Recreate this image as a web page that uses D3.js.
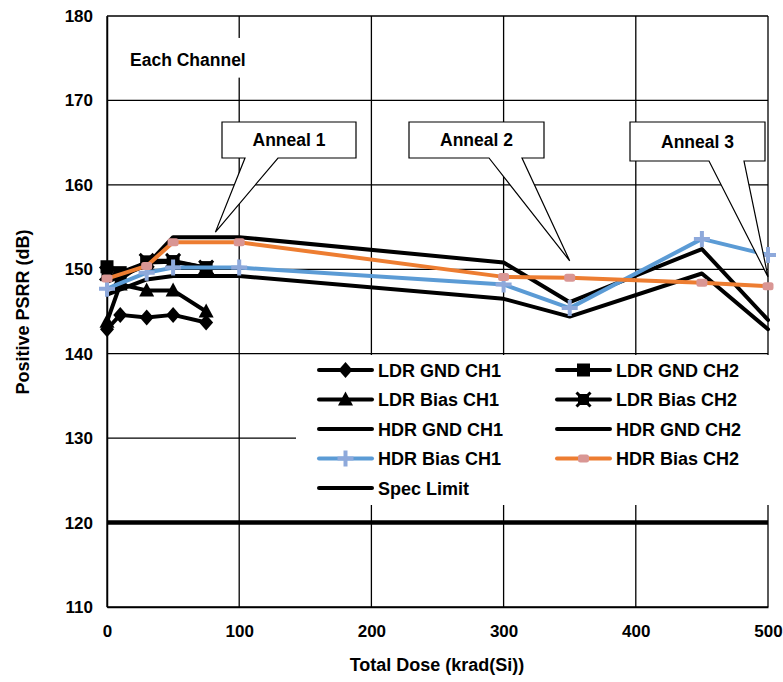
<!DOCTYPE html>
<html><head><meta charset="utf-8">
<script src="https://cdn.jsdelivr.net/npm/d3@7"></script>
<style>body{margin:0;background:#fff}svg{display:block}text{font-family:"Liberation Sans",Arial,sans-serif;font-weight:bold;fill:#000}</style>
</head><body><svg id="c" width="783" height="682"></svg>
<script>
// ---- data ----
const ldrDose = [0, 10, 30, 50, 75];
const ldrGndCh1 = [142.9, 144.6, 144.3, 144.6, 143.7];
const ldrGndCh2 = [150.3, 149.6, 150.8, 150.9, 150.2];
const ldrBiasCh1 = [143.8, 148.2, 147.5, 147.5, 145.0];
const ldrBiasCh2 = [149.5, 148.8, 151.0, 151.0, 150.2];
const hdrDose = [0, 30, 50, 100, 300, 350, 450, 500];
const hdrGndCh1 = [148.5, 150.5, 153.8, 153.8, 150.8, 146.1, 152.4, 144.0];
const hdrGndCh2 = [147.0, 148.8, 149.2, 149.2, 146.5, 144.4, 149.5, 142.9];
const hdrBiasCh1 = [147.7, 149.6, 150.2, 150.2, 148.2, 145.4, 153.6, 151.7];
const hdrBiasCh2 = [148.9, 150.4, 153.2, 153.2, 149.1, 149.0, 148.4, 148.0];
const specDose = [0, 500];
const specLimit = [120, 120];
const xTicks = [0, 100, 200, 300, 400, 500];
const yTicks = [110, 120, 130, 140, 150, 160, 170, 180];
const seriesNames = ["LDR GND CH1","LDR GND CH2","LDR Bias CH1","LDR Bias CH2","HDR GND CH1","HDR GND CH2","HDR Bias CH1","HDR Bias CH2","Spec Limit"];
const annNames = ["Anneal 1","Anneal 2","Anneal 3"];
const annTipX = [82, 350, 500];
const annTipY = [154.4, 151.0, 149.1];

// ---- layout ----
const L=107,R=768,T=16,B=607;
const svg=d3.select("#c");
const x=d3.scaleLinear().domain([0,500]).range([L,R]);
const y=d3.scaleLinear().domain([110,180]).range([B,T]);

// gridlines
const g=svg.append("g");
g.selectAll(".hg").data(yTicks).join("line").attr("x1",L).attr("x2",R)
 .attr("y1",d=>y(d)).attr("y2",d=>y(d)).attr("stroke","#000").attr("stroke-width",1.3);
g.selectAll(".vg").data(xTicks).join("line").attr("y1",T).attr("y2",B)
 .attr("x1",d=>x(d)).attr("x2",d=>x(d)).attr("stroke","#000").attr("stroke-width",1.3);

// axes labels
const ya=svg.append("g").attr("transform",`translate(${L},0)`).call(d3.axisLeft(y).tickValues(yTicks).tickSize(0).tickPadding(14));
ya.select(".domain").attr("stroke","#000").attr("stroke-width",1.5);
ya.selectAll("text").style("font-size","17px").style("font-family","Liberation Sans, Arial").style("font-weight","bold");
const xa=svg.append("g").attr("transform",`translate(0,${B})`).call(d3.axisBottom(x).tickValues(xTicks).tickSize(0).tickPadding(18));
xa.select(".domain").attr("stroke","#000").attr("stroke-width",1.5);
xa.selectAll("text").style("font-size","17px").style("font-family","Liberation Sans, Arial").style("font-weight","bold");

svg.append("text").attr("x",437).attr("y",671).attr("text-anchor","middle").style("font-size","18px").text("Total Dose (krad(Si))");
svg.append("text").attr("transform","translate(29,312) rotate(-90)").attr("text-anchor","middle").style("font-size","18px").text("Positive PSRR (dB)");

// "Each Channel" box
svg.append("rect").attr("x",x(10)).attr("y",y(177.4)).attr("width",x(120)-x(10)).attr("height",y(172.7)-y(177.4)).attr("fill","#fff");
svg.append("text").attr("x",130).attr("y",66).style("font-size","17.5px").text("Each Channel");

// series
const line=d3.line().x(d=>x(d[0])).y(d=>y(d[1]));
const zip=(a,b)=>a.map((v,i)=>[v,b[i]]);
const plot=svg.append("g");
function drawLine(xs,ys,color,w){
  plot.append("path").datum(zip(xs,ys)).attr("d",line).attr("fill","none").attr("stroke",color)
   .attr("stroke-width",w).attr("stroke-linejoin","round").attr("stroke-linecap","round");
}
function marker(sel,type,cx,cy){
  if(type==="diamond") sel.append("path").attr("d",`M${cx},${cy-8}L${cx+7},${cy}L${cx},${cy+8}L${cx-7},${cy}Z`).attr("fill","#000");
  else if(type==="square") sel.append("rect").attr("x",cx-6.5).attr("y",cy-6.5).attr("width",13).attr("height",13).attr("fill","#000");
  else if(type==="triangle") sel.append("path").attr("d",`M${cx},${cy-8}L${cx+7.5},${cy+6}L${cx-7.5},${cy+6}Z`).attr("fill","#000");
  else if(type==="xsq"){ sel.append("rect").attr("x",cx-5.5).attr("y",cy-5.5).attr("width",11).attr("height",11).attr("fill","#000");
    sel.append("path").attr("d",`M${cx-7},${cy-7}L${cx+7},${cy+7}M${cx+7},${cy-7}L${cx-7},${cy+7}`).attr("stroke","#000").attr("stroke-width",3);}
  else if(type==="plus") sel.append("path").attr("d",`M${cx-8},${cy}H${cx+8}M${cx},${cy-8}V${cy+8}`).attr("stroke","#8EA9DB").attr("stroke-width",4);
  else if(type==="pink") sel.append("rect").attr("x",cx-5.5).attr("y",cy-4).attr("width",11).attr("height",8).attr("rx",2.5).attr("fill","#D99694");
}
function drawMarkers(xs,ys,type){ xs.forEach((v,i)=>marker(plot,type,x(v),y(ys[i]))); }

drawLine(ldrDose,ldrGndCh1,"#000",4); drawMarkers(ldrDose,ldrGndCh1,"diamond");
drawLine(ldrDose,ldrGndCh2,"#000",4); drawMarkers(ldrDose,ldrGndCh2,"square");
drawLine(ldrDose,ldrBiasCh1,"#000",4); drawMarkers(ldrDose,ldrBiasCh1,"triangle");
drawLine(ldrDose,ldrBiasCh2,"#000",4); drawMarkers(ldrDose,ldrBiasCh2,"xsq");
drawLine(hdrDose,hdrGndCh1,"#000",4);
drawLine(hdrDose,hdrGndCh2,"#000",4);
drawLine(hdrDose,hdrBiasCh1,"#5B9BD5",4); drawMarkers(hdrDose,hdrBiasCh1,"plus");
drawLine(hdrDose,hdrBiasCh2,"#ED7D31",4); drawMarkers(hdrDose,hdrBiasCh2,"pink");
plot.append("path").datum(zip(specDose,specLimit)).attr("d",line).attr("stroke","#000").attr("stroke-width",4.5);

// legend
const lg=svg.append("g");
lg.append("rect").attr("x",296).attr("y",355).attr("width",R-296+1).attr("height",150).attr("fill","#fff");
const legTypes=["diamond","square","triangle","xsq",null,null,"plus","pink",null];
const legColors=["#000","#000","#000","#000","#000","#000","#5B9BD5","#ED7D31","#000"];
seriesNames.forEach((n,i)=>{
  const col=i%2, row=Math.floor(i/2);
  const x0=col?557:319, yy=370+row*29.5;
  lg.append("line").attr("x1",x0).attr("x2",x0+53).attr("y1",yy).attr("y2",yy).attr("stroke",legColors[i]).attr("stroke-width",4).attr("stroke-linecap","round");
  if(legTypes[i]) marker(lg,legTypes[i],x0+26.5,yy);
  lg.append("text").attr("x",x0+59).attr("y",yy+6.5).style("font-size","18px").text(n);
});

// callouts
const ann=svg.append("g");
const boxL=[222,409,630], boxR=[356,544,765], boxB=[158,158,161], baseL=[245,489,709], baseR=[278,522,744];
annNames.forEach((n,i)=>{
  const tx=x(annTipX[i]), ty=y(annTipY[i]), top=122;
  const p=`M${boxL[i]},${top}H${boxR[i]}V${boxB[i]}H${baseR[i]}L${tx},${ty}L${baseL[i]},${boxB[i]}H${boxL[i]}Z`;
  ann.append("path").attr("d",p).attr("fill","#fff").attr("stroke","#000").attr("stroke-width",1.2);
  ann.append("text").attr("x",(boxL[i]+boxR[i])/2).attr("y",top+(boxB[i]-top)/2+6).attr("text-anchor","middle").style("font-size","17.5px").text(n);
});
</script></body></html>
